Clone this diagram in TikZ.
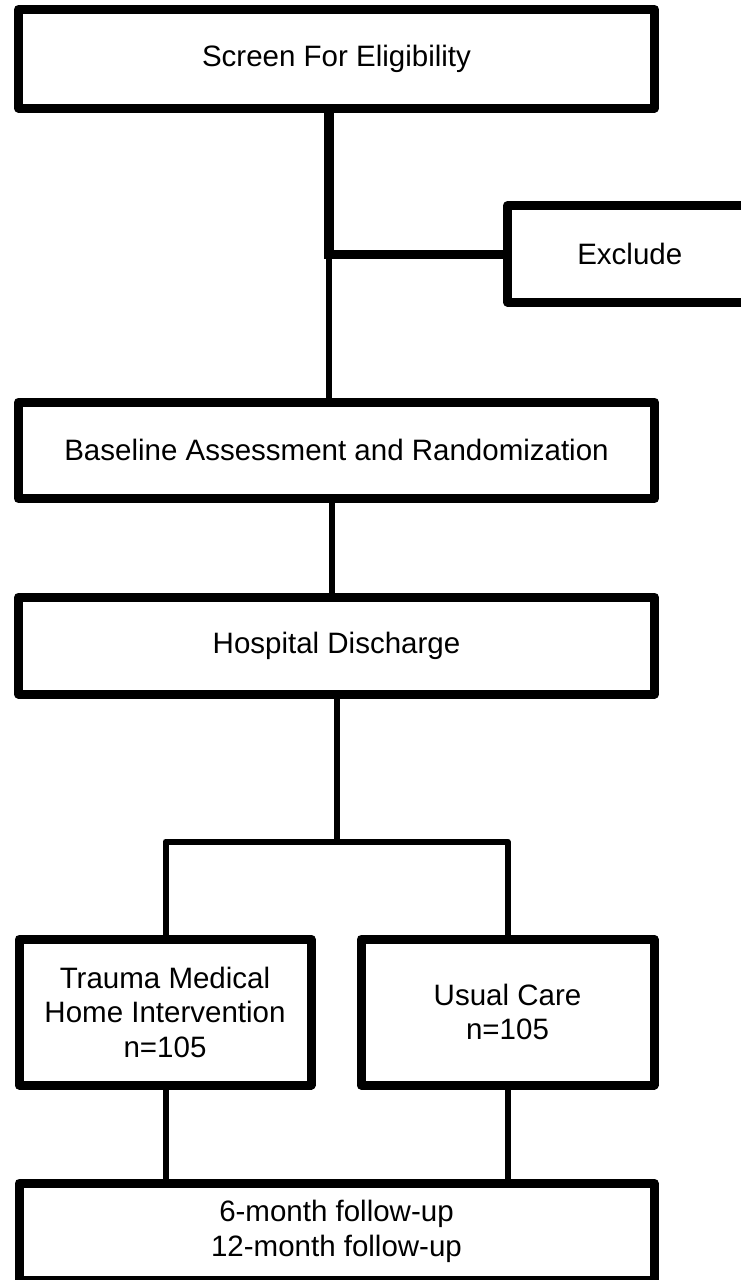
\documentclass[tikz,border=0pt]{standalone}
\usepackage{fontspec}
\setmainfont{Liberation Sans}
\begin{document}
\begin{tikzpicture}[x=1pt,y=-1pt,
  box/.style={draw=black, line width=9pt, line join=round, fill=white,
    inner sep=0pt, align=center,
    font=\fontsize{29.5}{34.5}\selectfont},
  heavylink/.style={draw=black, line width=9.5pt},
  link/.style={draw=black, line width=6pt}]
\useasboundingbox (0,0) rectangle (741,1280);
\clip (0,0) rectangle (741,1280);
\fill[white] (0,0) rectangle (741,1280);

% flow boxes
\node[box, minimum width=636pt, minimum height=98.5pt] (screen) at (336.5,58.75) {Screen For Eligibility};
\node[box, minimum width=244.5pt, minimum height=96.3pt] (exclude) at (629.75,253.85) {Exclude};
\node[box, minimum width=636pt, minimum height=96.5pt] (baseline) at (336.5,450.25) {Baseline Assessment and Randomization};
\node[box, minimum width=636pt, minimum height=97pt] (hospital) at (336.5,645.5) {Hospital Discharge};
\node[box, minimum width=292pt, minimum height=146pt] (trauma) at (165,1012) {Trauma Medical\\Home Intervention\\n=105};
\node[box, minimum width=293pt, minimum height=146pt] (usual) at (507.5,1012) {Usual Care\\n=105};
\node[box, minimum width=635pt, minimum height=97pt] (follow) at (336.5,1231.5) {6-month follow-up\\12-month follow-up};

% junctions
\coordinate (jexcl) at (329,254.5);
\coordinate (split) at (336.5,841.5);

% connectors
\draw[link] (jexcl) -- (jexcl |- baseline.north);
\draw[heavylink] (screen.south -| jexcl) -- (jexcl) -- (exclude.west |- jexcl);
\draw[link] ([xshift=-4.5pt]baseline.south) -- ([xshift=-4.5pt]hospital.north);
\draw[link] (hospital.south) -- (split);
\draw[link, line join=round] ([xshift=0.5pt]trauma.north) -- ([xshift=0.5pt]trauma.north |- split)
  -- (usual.north |- split) -- (usual.north);
\draw[link] ([xshift=0.5pt]trauma.south) -- ([xshift=0.5pt]trauma.south |- follow.north);
\draw[link] ([xshift=0.5pt]usual.south) -- ([xshift=0.5pt]usual.south |- follow.north);
\end{tikzpicture}
\end{document}
